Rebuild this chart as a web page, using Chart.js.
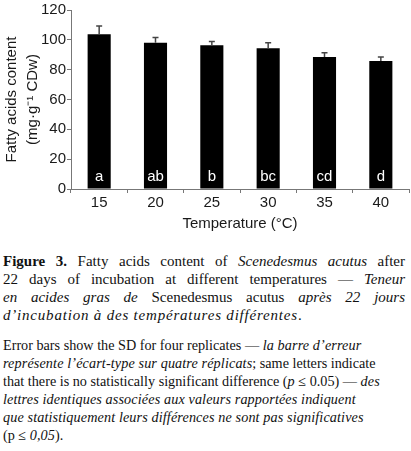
<!DOCTYPE html>
<html>
<head>
<meta charset="utf-8">
<script src="https://cdn.jsdelivr.net/npm/chart.js@4"></script>
<style>
    html, body { margin: 0; padding: 0; background: #fff; }
    body { width: 411px; height: 451px; position: relative; overflow: hidden; }
    #chart-box { position: absolute; left: 0; top: 0; width: 411px; height: 236px; }
    .caption { position: absolute; left: 3px; width: 402px; font-family: "Liberation Serif", "Times New Roman", serif; color: #111; }
    .caption div { white-space: nowrap; }
    #cap1 { top: 252px; font-size: 15px; line-height: 18px; }
    #cap1 .just { text-align: justify; text-align-last: justify; white-space: normal; }
    #cap1 .wide { letter-spacing: 0.8px; }
    #cap2 { top: 336px; font-size: 14.2px; line-height: 18px; }
    #cap2 i { letter-spacing: 0.12px; }
</style>
</head>
<body>
<div id="chart-box"><canvas id="fatty-chart"></canvas></div>

<div class="caption" id="cap1">
    <div class="just"><b>Figure 3.</b> Fatty acids content of <i>Scenedesmus acutus</i> after</div>
    <div class="just">22 days of incubation at different temperatures — <i>Teneur</i></div>
    <div class="just"><i>en acides gras de</i> Scenedesmus acutus <i>après 22 jours</i></div>
    <div class="wide"><i>d’incubation à des températures différentes</i>.</div>
</div>
<div class="caption" id="cap2">
    <div>Error bars show the SD for four replicates — <i>la barre d’erreur</i></div>
    <div><i>représente l’écart-type sur quatre réplicats</i>; same letters indicate</div>
    <div>that there is no statistically significant difference (<i>p</i> ≤ 0.05) — <i>des</i></div>
    <div><i>lettres identiques associées aux valeurs rapportées indiquent</i></div>
    <div><i>que statistiquement leurs différences ne sont pas significatives</i></div>
    <div>(p ≤ <i>0,05</i>).</div>
</div>

<script>
// Data
const temperatures = ['15', '20', '25', '30', '35', '40'];
const fattyAcids = [103.7, 98.1, 96.3, 94.3, 88.5, 85.8];   // mg/g CDw
const sdValues = [5.6, 3.4, 2.5, 3.8, 2.9, 2.7];
const groupLetters = ['a', 'ab', 'b', 'bc', 'cd', 'd'];
const yMax = 120;
const yStep = 20;

const sansFont = '"Liberation Sans", Arial, Helvetica, sans-serif';
const axisGray = '#777';

// Upper error bars (SD) drawn on top of each bar
const errorBarPlugin = {
    id: 'errorBars',
    afterDatasetsDraw(chart) {
        const ctx = chart.ctx;
        const yScale = chart.scales.y;
        const meta = chart.getDatasetMeta(0);
        ctx.save();
        ctx.strokeStyle = '#444';
        ctx.lineWidth = 1.5;
        meta.data.forEach((bar, i) => {
            const top = yScale.getPixelForValue(fattyAcids[i] + sdValues[i]);
            ctx.beginPath();
            ctx.moveTo(bar.x, bar.y);
            ctx.lineTo(bar.x, top);
            ctx.moveTo(bar.x - 3, top);
            ctx.lineTo(bar.x + 3, top);
            ctx.stroke();
        });
        ctx.restore();
    }
};

// White significance letters near the base of the bars
const letterPlugin = {
    id: 'groupLetters',
    afterDatasetsDraw(chart) {
        const ctx = chart.ctx;
        const base = chart.scales.y.getPixelForValue(0);
        const meta = chart.getDatasetMeta(0);
        ctx.save();
        ctx.fillStyle = '#fff';
        ctx.font = '15px ' + sansFont;
        ctx.textAlign = 'center';
        ctx.textBaseline = 'alphabetic';
        meta.data.forEach((bar, i) => {
            ctx.fillText(groupLetters[i], bar.x, base - 8);
        });
        ctx.restore();
    }
};

const ctx = document.getElementById('fatty-chart').getContext('2d');
new Chart(ctx, {
    type: 'bar',
    data: {
        labels: temperatures,
        datasets: [{
            data: fattyAcids,
            backgroundColor: '#000',
            borderWidth: 0,
            categoryPercentage: 1,
            barPercentage: 0.41
        }]
    },
    options: {
        responsive: true,
        maintainAspectRatio: false,
        animation: false,
        layout: { padding: { top: 10, right: 2, left: 0, bottom: 0 } },
        plugins: {
            legend: { display: false },
            tooltip: { enabled: false }
        },
        scales: {
            x: {
                afterFit: function(scale) { scale.height = 47; },
                grid: { display: true, drawOnChartArea: false, tickLength: 4, color: axisGray, offset: true },
                border: { color: axisGray, width: 1 },
                ticks: { color: '#1a1a1a', padding: 1, font: { family: sansFont, size: 15 } },
                title: {
                    display: true,
                    text: 'Temperature (°C)',
                    color: '#1a1a1a',
                    padding: { top: 0, bottom: 3 },
                    font: { family: sansFont, size: 15, lineHeight: 1.2 }
                }
            },
            y: {
                min: 0,
                max: yMax,
                afterFit: function(scale) { scale.width = 71; },
                grid: { display: true, drawOnChartArea: false, tickLength: 4, color: axisGray },
                border: { color: axisGray, width: 1 },
                ticks: { stepSize: yStep, color: '#1a1a1a', padding: 1, font: { family: sansFont, size: 15 } },
                title: {
                    display: true,
                    text: ['Fatty acids content', '(mg·g⁻¹ CDw)'],
                    color: '#1a1a1a',
                    padding: { top: 2, bottom: 0 },
                    font: { family: sansFont, size: 15, lineHeight: 1.35 }
                }
            }
        }
    },
    plugins: [errorBarPlugin, letterPlugin]
});
</script>
</body>
</html>
